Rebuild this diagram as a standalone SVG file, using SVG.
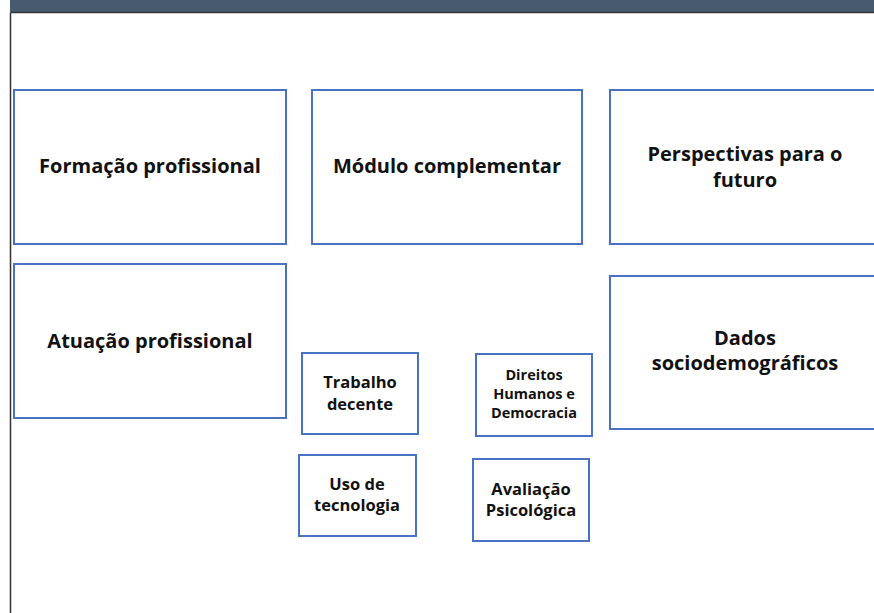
<svg xmlns="http://www.w3.org/2000/svg" width="874" height="613" viewBox="0 0 874 613">
<style>
.box{fill:#fff;stroke:#4a72c4;stroke-width:2}
.t{font-family:"Open Sans","Liberation Sans",sans-serif;font-weight:bold;fill:#111;text-anchor:middle}
.l{font-size:20px}
.m{font-size:16.5px}
.s{font-size:14.5px}
</style>
<rect x="0" y="0" width="874" height="613" fill="#fff"/>
<rect x="10" y="0" width="864" height="12" fill="#475a70"/>
<path d="M10.5 12.5 H874 M10.5 12.5 V613" fill="none" stroke="#333" stroke-width="1.5"/>
<g id="formacao"><rect class="box" x="14" y="90" width="272" height="154"/><text class="t l" x="150" y="173">Formação profissional</text></g>
<g id="modulo"><rect class="box" x="312" y="90" width="270" height="154"/><text class="t l" x="447" y="173">Módulo complementar</text></g>
<g id="perspectivas"><rect class="box" x="610" y="90" width="270" height="154"/><text class="t l" x="745" y="161">Perspectivas para o</text><text class="t l" x="745" y="187">futuro</text></g>
<g id="atuacao"><rect class="box" x="14" y="264" width="272" height="154"/><text class="t l" x="150" y="348">Atuação profissional</text></g>
<g id="dados"><rect class="box" x="610" y="276" width="270" height="153"/><text class="t l" x="745" y="345">Dados</text><text class="t l" x="745" y="370">sociodemográficos</text></g>
<g id="trabalho"><rect class="box" x="302" y="353" width="116" height="81"/><text class="t m" x="360" y="388">Trabalho</text><text class="t m" x="360" y="410">decente</text></g>
<g id="direitos"><rect class="box" x="476" y="354" width="116" height="82"/><text class="t s" x="534" y="380">Direitos</text><text class="t s" x="534" y="399">Humanos e</text><text class="t s" x="534" y="418">Democracia</text></g>
<g id="uso"><rect class="box" x="299" y="455" width="117" height="81"/><text class="t m" x="357" y="490">Uso de</text><text class="t m" x="357" y="511">tecnologia</text></g>
<g id="avaliacao"><rect class="box" x="473" y="459" width="116" height="82"/><text class="t m" x="531" y="495">Avaliação</text><text class="t m" x="531" y="516">Psicológica</text></g>
<g id="connectors"></g>
</svg>
